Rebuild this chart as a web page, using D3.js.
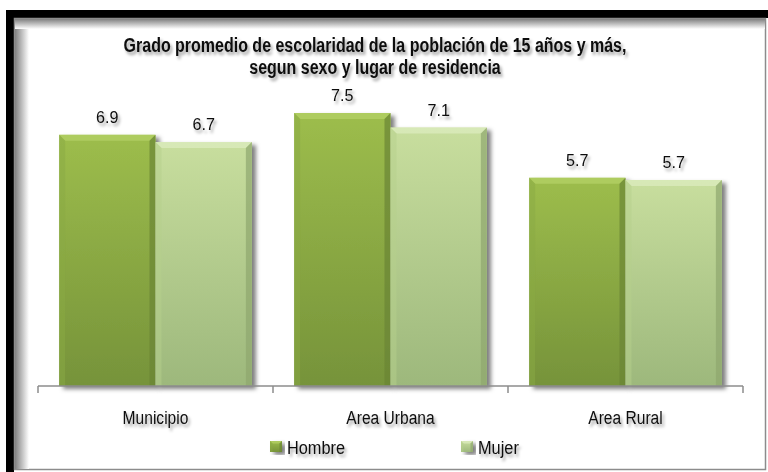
<!DOCTYPE html>
<meta charset="utf-8">
<style>
  body { margin: 0; background: #fff; }
  text { font-family: "Liberation Sans", Arial, sans-serif; fill: #111; }
</style>
<body>
<script src="https://d3js.org/d3.v7.min.js"></script>
<script>

// data
var categories = ["Municipio", "Area Urbana", "Area Rural"];
var series = ["Hombre", "Mujer"];
var hombre = [6.9, 7.5, 5.72];
var mujer = [6.7, 7.1, 5.66];
var titleLines = ["Grado promedio de escolaridad de la población de 15 años y más,",
                  "segun sexo y lugar de residencia"];

var width = 768, height = 472;
var fmt = d3.format(".1f");

var svg = d3.select("body").append("svg")
    .attr("width", width)
    .attr("height", height);

var defs = svg.append("defs");

// soft shadow for text and bars
var ts = defs.append("filter").attr("id", "txtShadow")
    .attr("x", "-20%").attr("y", "-40%").attr("width", "140%").attr("height", "200%");
ts.append("feDropShadow").attr("dx", 2).attr("dy", 3).attr("stdDeviation", 1.8)
    .attr("flood-color", "#000").attr("flood-opacity", 0.38);

var bs = defs.append("filter").attr("id", "barShadow")
    .attr("x", "-10%").attr("y", "-10%").attr("width", "130%").attr("height", "130%");
bs.append("feDropShadow").attr("dx", 4).attr("dy", 3).attr("stdDeviation", 2.2)
    .attr("flood-color", "#000").attr("flood-opacity", 0.5);

var colors = {
  Hombre: {top: "#9dbd4c", bot: "#76933a", hi: "#b3d064", side: "#8aa944", dark: "#6a8434"},
  Mujer:  {top: "#c8de9e", bot: "#9db87c", hi: "#dbebbd", side: "#b6cf8c", dark: "#8ea66e"}
};

series.forEach(function(s) {
  var g = defs.append("linearGradient").attr("id", "grad" + s)
      .attr("x1", 0).attr("y1", 0).attr("x2", 0).attr("y2", 1);
  g.append("stop").attr("offset", "0%").attr("stop-color", colors[s].top);
  g.append("stop").attr("offset", "100%").attr("stop-color", colors[s].bot);
});

// frame
var edgeL = defs.append("linearGradient").attr("id", "edgeL")
    .attr("x1", 0).attr("y1", 0).attr("x2", 1).attr("y2", 0);
edgeL.append("stop").attr("offset", "0%").attr("stop-color", "#808080");
edgeL.append("stop").attr("offset", "100%").attr("stop-color", "#fff");
var edgeT = defs.append("linearGradient").attr("id", "edgeT")
    .attr("x1", 0).attr("y1", 0).attr("x2", 0).attr("y2", 1);
edgeT.append("stop").attr("offset", "0%").attr("stop-color", "#808080");
edgeT.append("stop").attr("offset", "100%").attr("stop-color", "#fff");

svg.append("rect").attr("x", 6).attr("y", 10).attr("width", width - 6).attr("height", 8)
    .attr("fill", "#000");
svg.append("rect").attr("x", 6).attr("y", 10).attr("width", 8).attr("height", height - 10)
    .attr("fill", "#000");
svg.append("rect").attr("x", 14.5).attr("y", 18.5).attr("width", 751).attr("height", 451)
    .attr("fill", "#fff").attr("stroke", "#8c8c8c").attr("stroke-width", 1.5);
svg.append("rect").attr("x", 15).attr("y", 19).attr("width", 14).attr("height", 450)
    .attr("fill", "url(#edgeL)");
svg.append("rect").attr("x", 15).attr("y", 19).attr("width", 750).attr("height", 10)
    .attr("fill", "url(#edgeT)");

// squeezed text, the original uses a narrow face
function narrow(parent, x, y, str, size, sx, bold, anchor) {
  var g = parent.append("g").attr("filter", "url(#txtShadow)");
  g.append("text")
      .attr("transform", "translate(" + x + "," + y + ") scale(" + sx + ",1)")
      .attr("text-anchor", anchor || "middle")
      .attr("font-size", size)
      .attr("font-weight", bold ? "bold" : null)
      .text(str);
  return g;
}

// scales
var baseY = 386;
var x0 = d3.scaleBand().domain(categories).range([38, 743]);
var gap = x0.bandwidth() * 0.09;
var x1 = d3.scaleBand().domain(series).range([gap, x0.bandwidth() - gap]);
var y = d3.scaleLinear().domain([0, 8]).range([baseY, baseY - 8 * 36.4]);

var rows = [];
categories.forEach(function(c, i) {
  rows.push({cat: c, s: "Hombre", v: hombre[i]});
  rows.push({cat: c, s: "Mujer", v: mujer[i]});
});

// title
titleLines.forEach(function(t, i) {
  narrow(svg, 375, 52 + i * 22, t, 19.5, 0.82, true);
});

// bars
var bars = svg.append("g").selectAll("g.bar").data(rows).enter().append("g")
    .attr("class", "bar")
    .attr("filter", "url(#barShadow)");

function bevel(sel, bx, by, bw, bh, b, c) {
  sel.append("rect").attr("x", bx).attr("y", by).attr("width", bw).attr("height", bh)
      .attr("fill", "url(#grad" + c + ")");
  var col = colors[c];
  sel.append("polygon").attr("fill", col.hi).attr("opacity", 0.8)
      .attr("points", [[bx, by], [bx + bw, by], [bx + bw - b, by + b], [bx + b, by + b]].join(" "));
  sel.append("polygon").attr("fill", col.side).attr("opacity", 0.5)
      .attr("points", [[bx, by], [bx + b, by + b], [bx + b, by + bh], [bx, by + bh]].join(" "));
  sel.append("polygon").attr("fill", col.dark).attr("opacity", 0.7)
      .attr("points", [[bx + bw, by], [bx + bw - b, by + b], [bx + bw - b, by + bh], [bx + bw, by + bh]].join(" "));
}

bars.each(function(d) {
  var bx = x0(d.cat) + x1(d.s), by = y(d.v);
  bevel(d3.select(this), bx, by, x1.bandwidth(), baseY - by, 6, d.s);
});

// value labels
var vl = svg.append("g");
rows.forEach(function(d) {
  narrow(vl, x0(d.cat) + x1(d.s) + x1.bandwidth() / 2, y(d.v) - 12, fmt(d.v), 17, 0.95, false);
});

// category axis, ticks between categories
var axis = svg.append("g").attr("stroke", "#8c8c8c").attr("stroke-width", 1.5);
axis.append("line").attr("x1", x0.range()[0]).attr("x2", x0.range()[1])
    .attr("y1", baseY).attr("y2", baseY);
var tickX = categories.map(function(c) { return x0(c); }).concat([x0.range()[1]]);
axis.selectAll(".tick").data(tickX).enter().append("line")
    .attr("x1", function(d) { return d; }).attr("x2", function(d) { return d; })
    .attr("y1", baseY).attr("y2", baseY + 7);

var cl = svg.append("g");
categories.forEach(function(c) {
  narrow(cl, x0(c) + x0.bandwidth() / 2, 424, c, 19, 0.82, false);
});

// legend
var legX = [270, 461];
series.forEach(function(s, i) {
  var g = svg.append("g").attr("transform", "translate(" + legX[i] + ",441)");
  bevel(g.append("g").attr("filter", "url(#barShadow)"), 0, 0, 12, 11, 2.5, s);
  narrow(g, 17, 13, s, 19, 0.86, false, "start");
});

</script>
</body>
